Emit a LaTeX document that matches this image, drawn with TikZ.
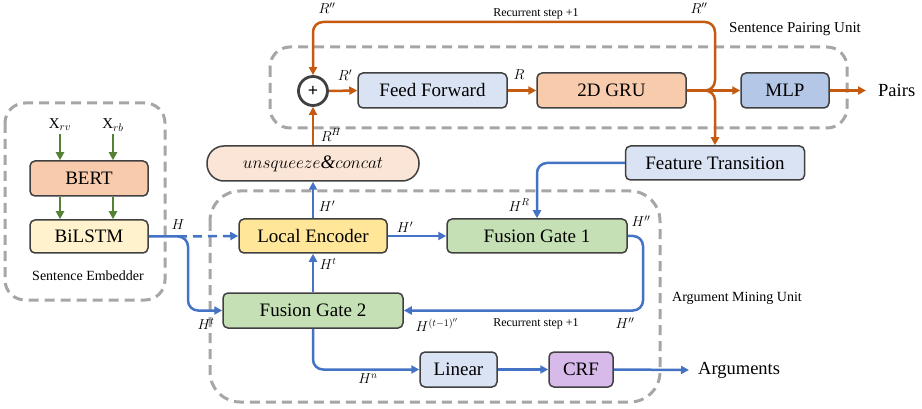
\documentclass[tikz,border=0pt]{standalone}
\usepackage{fontspec}
\setmainfont{Liberation Serif}
\usetikzlibrary{arrows.meta,calc}

\definecolor{edgegray}{HTML}{404040}
\definecolor{unitgray}{HTML}{A6A6A6}
\definecolor{flowblue}{HTML}{4472C4}
\definecolor{flowred}{HTML}{C55A11}
\definecolor{flowgreen}{HTML}{548235}
\definecolor{fillpeach}{HTML}{F8CBAD}
\definecolor{fillcream}{HTML}{FFF2CC}
\definecolor{fillice}{HTML}{DAE3F3}
\definecolor{fillsky}{HTML}{B4C7E7}
\definecolor{fillgold}{HTML}{FFE699}
\definecolor{fillmint}{HTML}{C5E0B4}
\definecolor{filllilac}{HTML}{D7B9EA}
\definecolor{fillblush}{HTML}{FBE5D6}

\tikzset{
  block/.style={draw=edgegray, line width=1.5pt, rounded corners=5pt,
    inner sep=0pt, font=\rmfamily\fontsize{19}{22}\selectfont},
  unitframe/.style={draw=unitgray, line width=3pt, dash pattern=on 10pt off 6pt},
  tip/.style={-{Triangle[length=8pt,width=8pt]}},
  blueflow/.style={draw=flowblue, line width=2.5pt},
  redflow/.style={draw=flowred, line width=2.5pt},
  greenflow/.style={draw=flowgreen, line width=2.5pt},
  lbl/.style={inner sep=0pt, font=\fontsize{14.5}{16}\selectfont},
  note/.style={inner sep=0pt, font=\fontsize{12}{14}\selectfont},
  unitname/.style={inner sep=0pt, font=\fontsize{14}{16}\selectfont},
}

\begin{document}
\begin{tikzpicture}[x=1pt,y=-1pt]
\useasboundingbox (0,0) rectangle (922,409);

% unit frames
\draw[unitframe, rounded corners=20pt] (5,103) rectangle (165,300);
\draw[unitframe, rounded corners=20pt] (270,47) rectangle (847,128);
\draw[unitframe, rounded corners=30pt] (210,191) rectangle (660,402);

\node[unitname] at (88,276) {Sentence Embedder};
\node[unitname, font=\fontsize{15}{17}\selectfont] at (795,29) {Sentence Pairing Unit};
\node[unitname] at (737,298) {Argument Mining Unit};

% sentence embedder
\node[block, fill=fillpeach, minimum width=118pt, minimum height=35pt] (bert) at (89,178.5) {BERT};
\node[block, fill=fillcream, minimum width=118pt, minimum height=33pt] (bilstm) at (89,236.5) {BiLSTM};
\node[lbl, font=\fontsize{15}{17}\selectfont] (xrv) at (60,125) {X$_{rv}$};
\node[lbl, font=\fontsize{15}{17}\selectfont] (xrb) at (113,125) {X$_{rb}$};

\draw[greenflow, tip] ([yshift=-3pt]xrv.south) -- (xrv |- bert.north);
\draw[greenflow, tip] ([yshift=-3pt]xrb.south -| xrb) -- (xrb |- bert.north);
\draw[greenflow, tip] (bert.south -| xrv) -- (bilstm.north -| xrv);
\draw[greenflow, tip] (bert.south -| xrb) -- (bilstm.north -| xrb);

% sentence pairing
\node[circle, draw=edgegray, line width=2.8pt, fill=white, minimum size=29pt, inner sep=0pt,
  font=\fontsize{18}{20}\selectfont\bfseries] (plus) at (313,91) {+};
\node[block, fill=fillice, minimum width=149pt, minimum height=35pt] (ff) at (432.5,90.5) {Feed Forward};
\node[block, fill=fillpeach, minimum width=149pt, minimum height=35pt] (gru) at (611.5,90.5) {2D GRU};
\node[block, fill=fillsky, minimum width=88pt, minimum height=35pt] (mlp) at (785,90.5) {MLP};
\node[inner sep=0pt, anchor=west, font=\fontsize{18.5}{21}\selectfont] (pairs) at (878,90.5) {Pairs};

\node[block, fill=fillblush, minimum width=212pt, minimum height=35pt, rounded corners=17pt]
  (concat) at (313,163.5) {$unsqueeze$\textit{\&}$concat$};
\node[block, fill=fillice, minimum width=179pt, minimum height=34pt] (ft) at (715,163) {Feature Transition};

\coordinate (looptop) at (715,22);

\draw[redflow, tip] (plus.east) -- (ff.west);
\draw[redflow, tip] (ff.east) -- (gru.west);
\draw[redflow, tip] (gru.east) -- (mlp.west);
\draw[redflow, tip] (mlp.east) -- ([xshift=-12pt]pairs.west);
\draw[redflow, tip, rounded corners=10pt] (gru.east) -| (looptop) -| (plus.north);
\draw[redflow, tip, rounded corners=10pt] (gru.east) -| (ft.north);
\draw[redflow, tip] (concat.north) -- (plus.south);

\node[lbl] at (327,8) {$R''$};
\node[lbl] at (699,8) {$R''$};
\node[note] at (536,14) {Recurrent step +1};
\node[lbl] at (345,75) {$R'$};
\node[lbl] at (519,75) {$R$};
\node[lbl] at (331,135) {$R^H$};

% argument mining
\node[block, fill=fillgold, minimum width=148pt, minimum height=34pt] (le) at (313,236) {Local Encoder};
\node[block, fill=fillmint, minimum width=180pt, minimum height=34pt] (fg1) at (537,236) {Fusion Gate 1};
\node[block, fill=fillmint, minimum width=180pt, minimum height=35pt] (fg2) at (313,310.5) {Fusion Gate 2};
\node[block, fill=fillice, minimum width=77pt, minimum height=35pt] (lin) at (458.5,369.5) {Linear};
\node[block, fill=filllilac, minimum width=64pt, minimum height=35pt] (crf) at (581,369.5) {CRF};
\node[inner sep=0pt, anchor=west, font=\fontsize{18.5}{21}\selectfont] (args) at (698,370) {Arguments};

\coordinate (hsplit) at (188,236.5);
\coordinate (rloop) at (643,236);

\draw[blueflow, tip, rounded corners=10pt] (bilstm.east) -- (hsplit) |- (fg2.west);
\draw[blueflow, tip, dash pattern=on 9pt off 6pt] ([xshift=-10pt]hsplit) -- (le.west);
\draw[blueflow, tip] (le.north) -- (concat.south);
\draw[blueflow, tip] (le.east) -- (fg1.west);
\draw[blueflow, tip, rounded corners=10pt] (ft.west) -| (fg1.north);
\draw[blueflow, tip, rounded corners=10pt] (fg1.east) -- (rloop) |- (fg2.east);
\draw[blueflow, tip] (fg2.north) -- (le.south);
\draw[blueflow, tip, rounded corners=10pt] (fg2.south) |- (lin.west);
\draw[blueflow, tip] (lin.east) -- (crf.west);
\draw[blueflow, tip] (crf.east) -- ([xshift=-9pt]args.west);

\node[lbl] at (178,225) {$H$};
\node[lbl] at (206,324) {$H^t$};
\node[lbl] at (327,206) {$H'$};
\node[lbl] at (405,227) {$H'$};
\node[lbl] at (328,264) {$H^t$};
\node[lbl] at (519,205) {$H^R$};
\node[lbl] at (641,221) {$H''$};
\node[lbl] at (625,323) {$H''$};
\node[lbl] at (437,325) {$H^{(t-1)''}$};
\node[note] at (536,324) {Recurrent step +1};
\node[lbl] at (368,379) {$H^n$};
\end{tikzpicture}
\end{document}
